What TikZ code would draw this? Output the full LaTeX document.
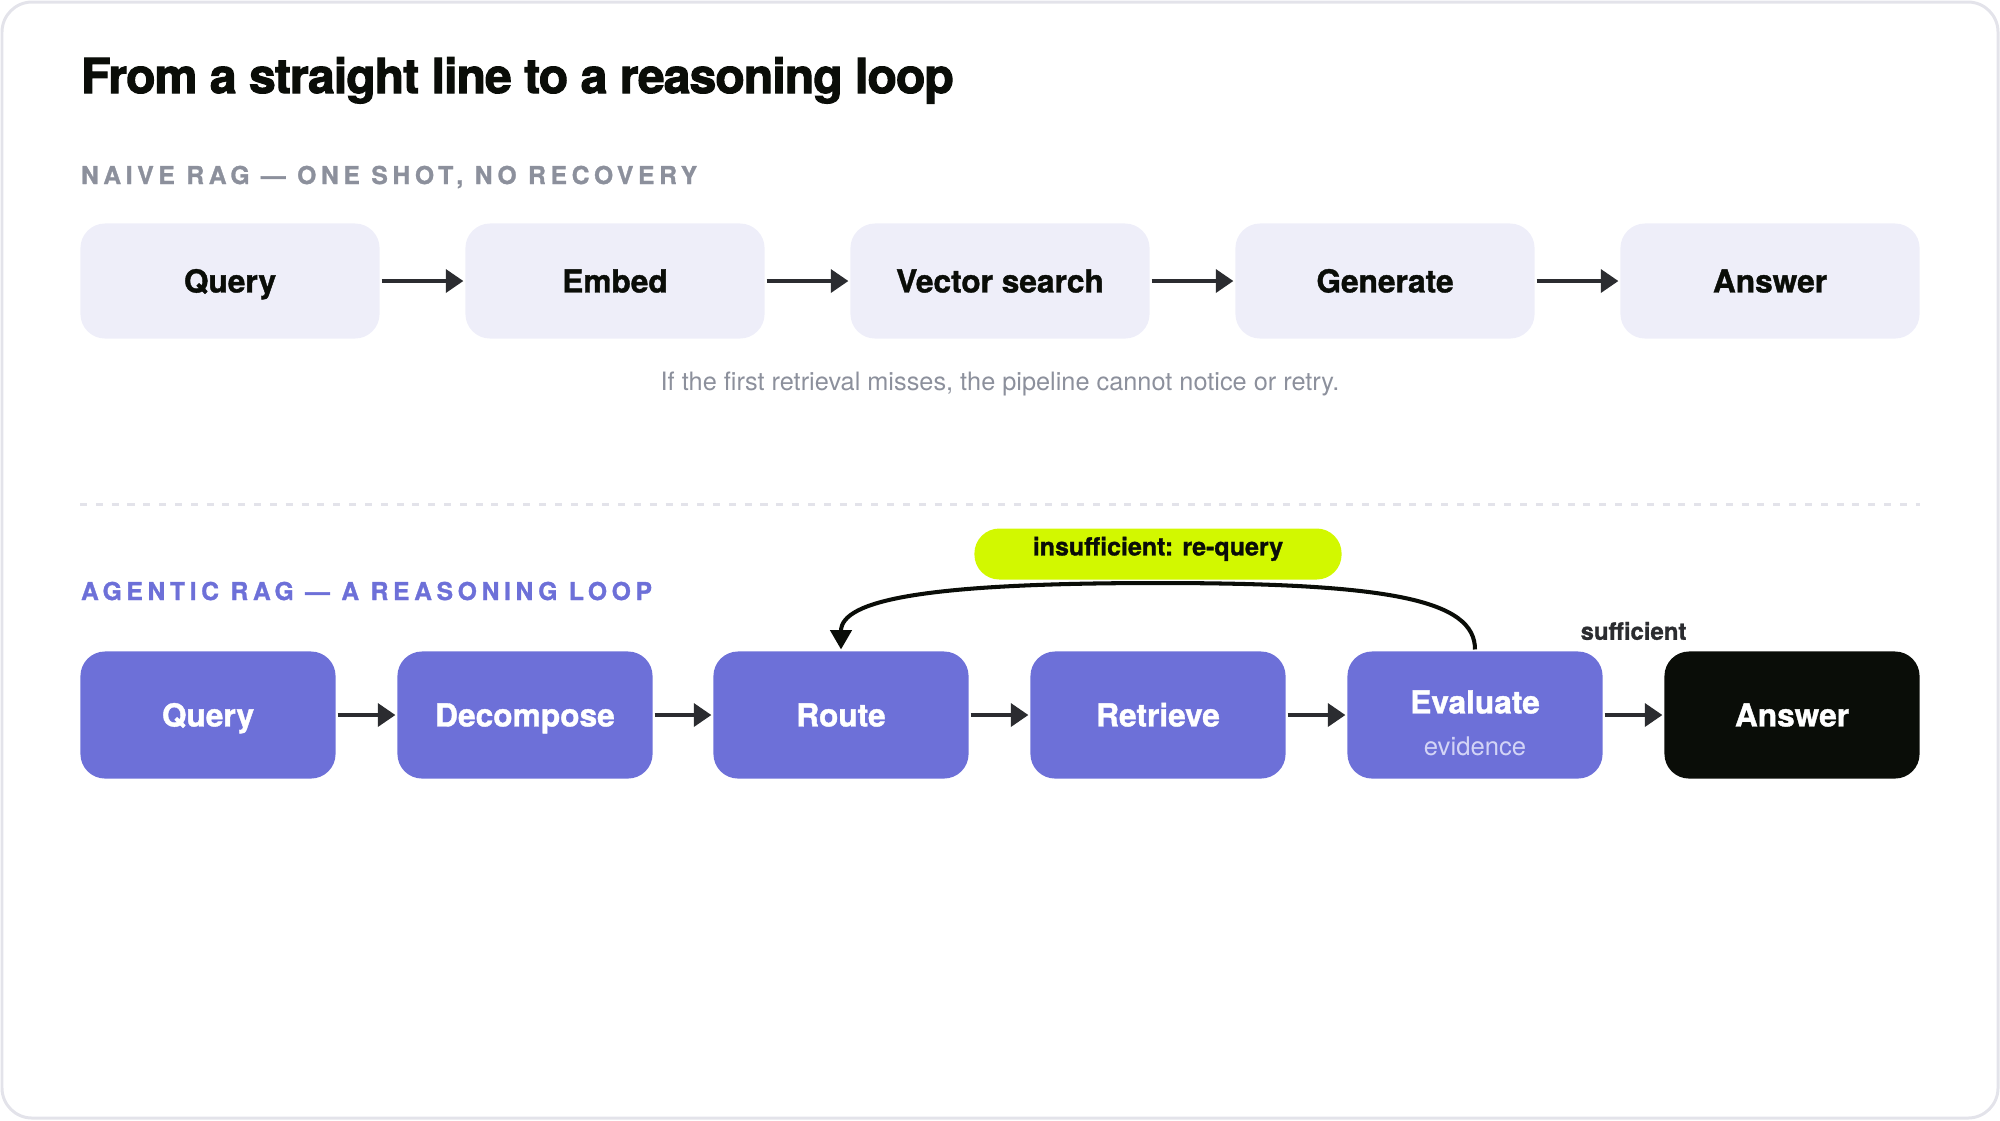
\documentclass[tikz,border=0pt]{standalone}
\usepackage{fontspec}
\setmainfont{TeX Gyre Heros}[BoldFeatures={FakeBold=1.2}]
\newfontfamily\capsfont{TeX Gyre Heros}[LetterSpace=19, BoldFeatures={FakeBold=1.2}]
\newfontfamily\titlefont{TeX Gyre Heros}[LetterSpace=-2, BoldFeatures={FakeBold=2.2}]
\usepackage{xcolor}
\usepackage{tikz}
\usetikzlibrary{arrows.meta}

\definecolor{framegray}{HTML}{E3E3EA}
\definecolor{naivefill}{HTML}{EEEEF9}
\definecolor{agentic}{HTML}{6D70D8}
\definecolor{inkblack}{HTML}{0A0D08}
\definecolor{arrowgray}{HTML}{2B2C30}
\definecolor{mutedgray}{HTML}{8C909C}
\definecolor{lime}{HTML}{D2F800}
\definecolor{evtext}{HTML}{D3D4F6}

\begin{document}
\begin{tikzpicture}[x=0.01cm, y=0.01cm, line width=1.15pt,
    naive/.style={fill=naivefill, rounded corners=7pt, minimum width=2.99cm, minimum height=1.15cm,
      text height=6.5pt, text depth=0pt, font=\fontsize{9}{11}\selectfont\bfseries, text=inkblack},
    agent/.style={fill=agentic, rounded corners=7pt, minimum width=2.55cm, minimum height=1.27cm,
      text height=6.5pt, text depth=0pt, font=\fontsize{9}{11}\selectfont\bfseries, text=white},
    final/.style={agent, fill=inkblack},
    flow/.style={draw=arrowgray, -{Triangle[length=5pt,width=6.5pt]}},
    loop/.style={draw=inkblack, -{Triangle[length=5.5pt,width=6pt]}},
    pill/.style={fill=lime, rounded corners=0.25cm, minimum width=3.67cm, minimum height=0.51cm,
      inner ysep=0pt, text height=6pt, text depth=5.2pt, font=\fontsize{7.1}{8}\selectfont\bfseries, text=inkblack},
    section/.style={anchor=base west, inner sep=0pt, font=\capsfont\fontsize{7}{8}\selectfont\bfseries},
  ]
    \useasboundingbox (0,0) rectangle (2000,-1120);
    \draw[framegray, line width=0.85pt, rounded corners=0.3cm] (2,-2) rectangle (1998,-1118);

    \node[anchor=base west, inner sep=0pt, font=\titlefont\fontsize{13.7}{16}\selectfont\bfseries, text=inkblack]
      (title) at (79,-93) {From a straight line to a reasoning loop};

    % naive pipeline
    \node[section, text=mutedgray] (naivehead) at (79,-184) {NAIVE RAG — ONE SHOT, NO RECOVERY};

    \node[naive](nquery)  at ( 230,-281) {Query};
    \node[naive](nembed)  at ( 615,-281) {Embed};
    \node[naive](nsearch) at (1000,-281) {Vector search};
    \node[naive](ngen)    at (1385,-281) {Generate};
    \node[naive](nanswer) at (1770,-281) {Answer};

    \draw[flow] (nquery) -- (nembed);
    \draw[flow] (nembed) -- (nsearch);
    \draw[flow] (nsearch) -- (ngen);
    \draw[flow] (ngen) -- (nanswer);

    \node[anchor=base, inner sep=0pt, font=\fontsize{7.2}{9}\selectfont, text=mutedgray]
      (naivenote) at (1000,-390) {If the first retrieval misses, the pipeline cannot notice or retry.};

    \draw[framegray, line width=0.85pt, dash pattern=on 2pt off 2.5pt] (80,-504) -- (1920,-504);

    % agentic loop
    \node[section, text=agentic] (agenthead) at (79,-600) {AGENTIC RAG — A REASONING LOOP};

    \node[agent](aquery)   at ( 208,-715) {Query};
    \node[agent](adecomp)  at ( 525,-715) {Decompose};
    \node[agent](aroute)   at ( 841,-715) {Route};
    \node[agent](aretr)    at (1158,-715) {Retrieve};
    \node[agent, align=center, text height=23.1pt](aeval) at (1475,-715)
      {Evaluate\\[1pt]{\fontsize{7.3}{9}\selectfont\mdseries\color{evtext}evidence}};
    \node[final](aanswer)  at (1792,-715) {Answer};

    \draw[flow] (aquery) -- (adecomp);
    \draw[flow] (adecomp) -- (aroute);
    \draw[flow] (aroute) -- (aretr);
    \draw[flow] (aretr) -- (aeval);
    \draw[flow] (aeval) -- (aanswer)
      node[midway, yshift=0.84cm, font=\fontsize{6.8}{8}\selectfont\bfseries, text=arrowgray] {sufficient};

    \draw[loop] (aeval.north) .. controls (1475,-600) and (1390,-583) .. (1158,-583)
                .. controls (926,-583) and (841,-600) .. (aroute.north);
    \node[pill] (requery) at (1158,-554) {insufficient: re-query};
\end{tikzpicture}
\end{document}
